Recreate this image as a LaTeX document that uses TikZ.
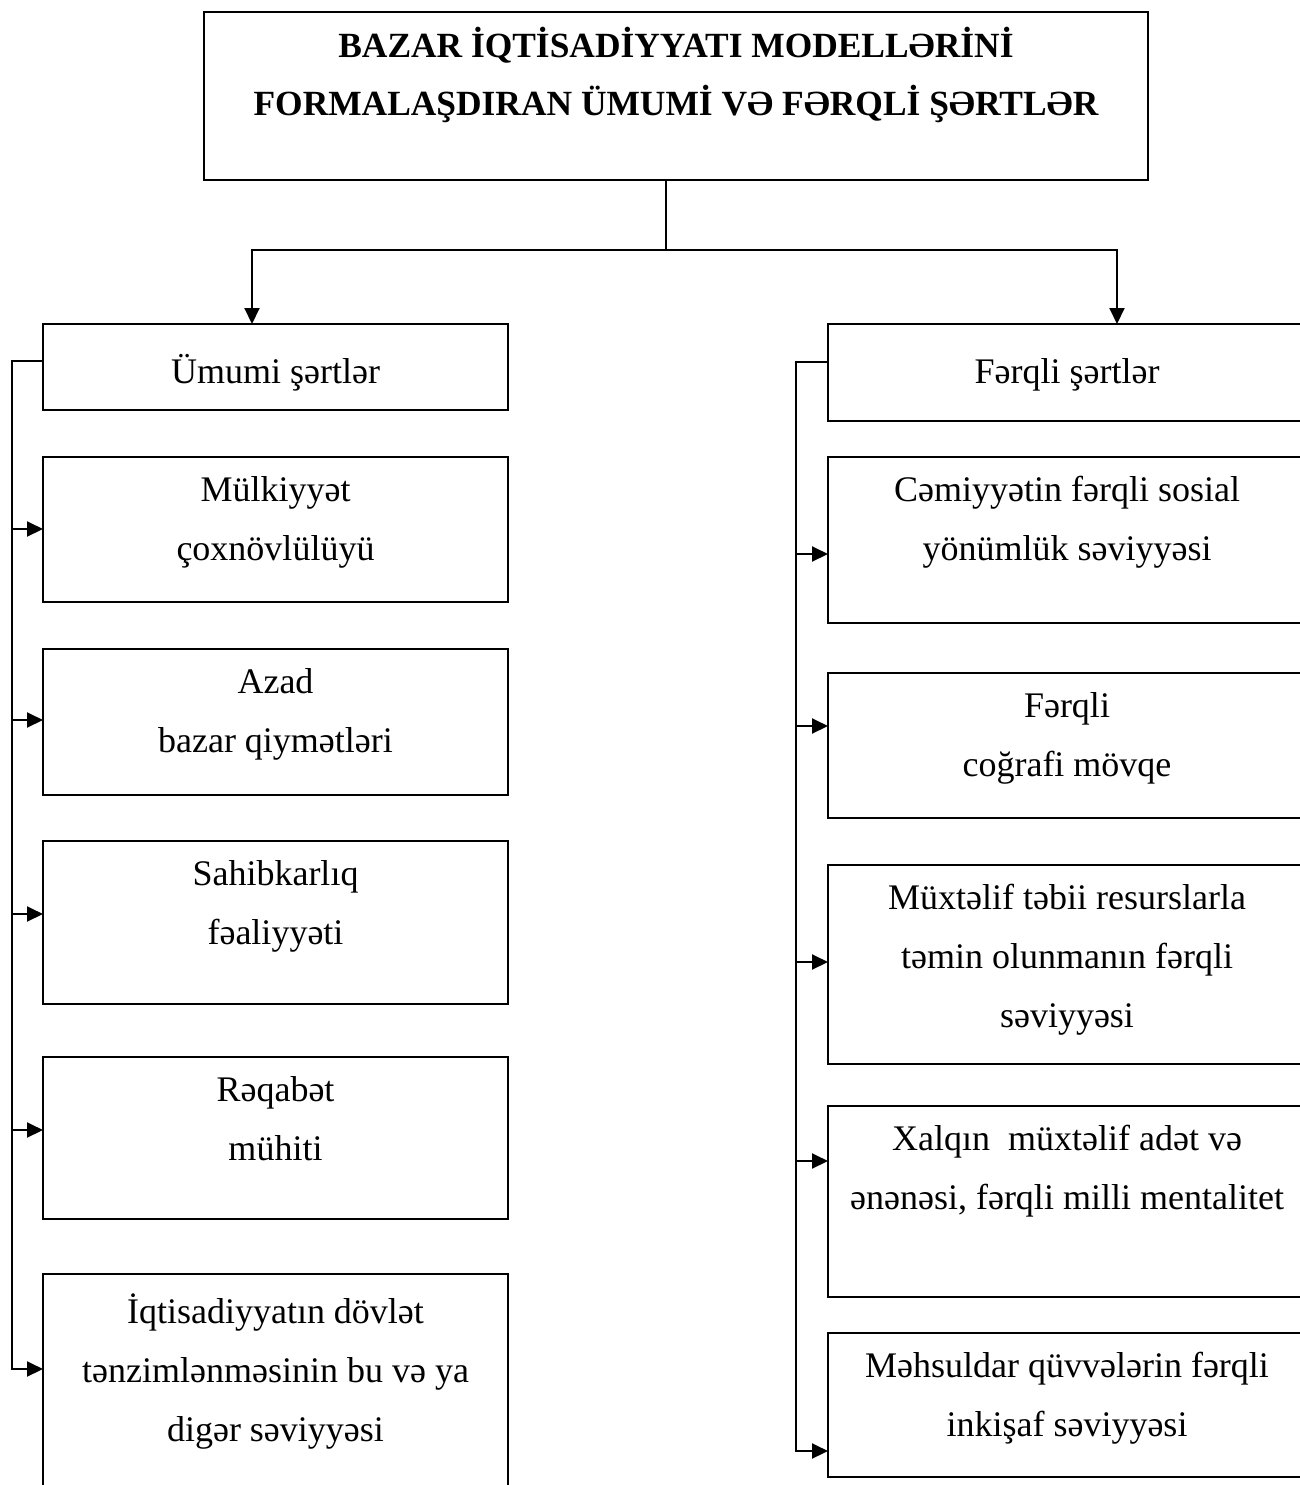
\documentclass[tikz,border=0pt]{standalone}
\usepackage{fontspec}
\setmainfont{Liberation Serif}
\usetikzlibrary{arrows.meta}
\tikzset{
  bx/.style 2 args={draw, line width=1pt, rectangle, inner sep=0pt, outer sep=0pt,
     anchor=north west, minimum width={#1*0.5pt}, minimum height={#2*0.5pt}},
  txt/.style={anchor=north, align=center, inner sep=0pt,
     font=\fontsize{18pt}{29.5pt}\selectfont, execute at begin node={\rule{0pt}{20pt}}},
  ttl/.style={txt, font=\fontsize{17.7pt}{29pt}\selectfont\bfseries},
  ln/.style={line width=1pt},
  arr/.style={line width=1pt, -{Triangle[length=8pt,width=7.5pt]}}
}
\begin{document}
\begin{tikzpicture}[x=0.5pt,y=-0.5pt]
\useasboundingbox (0,0) rectangle (1300,1485);
% top box
\node[bx={944}{168}] (T) at (204,12) {};
\node[ttl] (Tt) at (676,27) {BAZAR İQTİSADİYYATI MODELLƏRİNİ\\FORMALAŞDIRAN ÜMUMİ VƏ FƏRQLİ ŞƏRTLƏR};
% left column
\node[bx={465}{86}] (LH) at (43,324) {};
\node[txt] (LHt) at (275.5,343) {Ümumi şərtlər};
\node[bx={465}{145}] (L1) at (43,457) {};
\node[txt] (L1t) at (275.5,476) {Mülkiyyət\\çoxnövlülüyü};
\node[bx={465}{146}] (L2) at (43,649) {};
\node[txt] (L2t) at (275.5,668) {Azad\\bazar qiymətləri};
\node[bx={465}{163}] (L3) at (43,841) {};
\node[txt] (L3t) at (275.5,860) {Sahibkarlıq\\fəaliyyəti};
\node[bx={465}{162}] (L4) at (43,1057) {};
\node[txt] (L4t) at (275.5,1076) {Rəqabət\\mühiti};
\node[bx={465}{230}] (L5) at (43,1274) {};
\node[txt] (L5t) at (275.5,1293) {İqtisadiyyatın dövlət\\tənzimlənməsinin bu və ya\\digər səviyyəsi};
% right column
\node[bx={478}{97}] (RH) at (828,324) {};
\node[txt] (RHt) at (1067,343) {Fərqli şərtlər};
\node[bx={478}{166}] (R1) at (828,457) {};
\node[txt] (R1t) at (1067,476) {Cəmiyyətin fərqli sosial\\yönümlük səviyyəsi};
\node[bx={478}{145}] (R2) at (828,673) {};
\node[txt] (R2t) at (1067,692) {Fərqli\\coğrafi mövqe};
\node[bx={478}{199}] (R3) at (828,865) {};
\node[txt] (R3t) at (1067,884) {Müxtəlif təbii resurslarla\\təmin olunmanın fərqli\\səviyyəsi};
\node[bx={478}{191}] (R4) at (828,1106) {};
\node[txt] (R4t) at (1067,1125) {Xalqın\ \ müxtəlif adət və\\ənənəsi, fərqli milli mentalitet};
\node[bx={478}{144}] (R5) at (828,1333) {};
\node[txt] (R5t) at (1067,1352) {Məhsuldar qüvvələrin fərqli\\inkişaf səviyyəsi};
% top connectors
\coordinate (tj) at (666,250);
\coordinate (lj) at (252,250);
\coordinate (rj) at (1117,250);
\draw[ln] (T.south -| tj) -- (tj);
\draw[arr] (tj) -- (lj) -- (lj |- LH.north);
\draw[arr] (tj) -- (rj) -- (rj |- RH.north);
% left trunk
\coordinate (lt) at (12,361);
\coordinate (la1) at (12,529);
\coordinate (la2) at (12,720);
\coordinate (la3) at (12,914);
\coordinate (la4) at (12,1130);
\coordinate (la5) at (12,1369);
\draw[arr] (LH.west |- lt) -- (lt) -- (la5) -- (L5.west |- la5);
\draw[arr] (la1) -- (L1.west |- la1);
\draw[arr] (la2) -- (L2.west |- la2);
\draw[arr] (la3) -- (L3.west |- la3);
\draw[arr] (la4) -- (L4.west |- la4);
% right trunk
\coordinate (rt) at (796,362);
\coordinate (ra1) at (796,554);
\coordinate (ra2) at (796,726);
\coordinate (ra3) at (796,962);
\coordinate (ra4) at (796,1161);
\coordinate (ra5) at (796,1451);
\draw[arr] (RH.west |- rt) -- (rt) -- (ra5) -- (R5.west |- ra5);
\draw[arr] (ra1) -- (R1.west |- ra1);
\draw[arr] (ra2) -- (R2.west |- ra2);
\draw[arr] (ra3) -- (R3.west |- ra3);
\draw[arr] (ra4) -- (R4.west |- ra4);
\end{tikzpicture}
\end{document}
